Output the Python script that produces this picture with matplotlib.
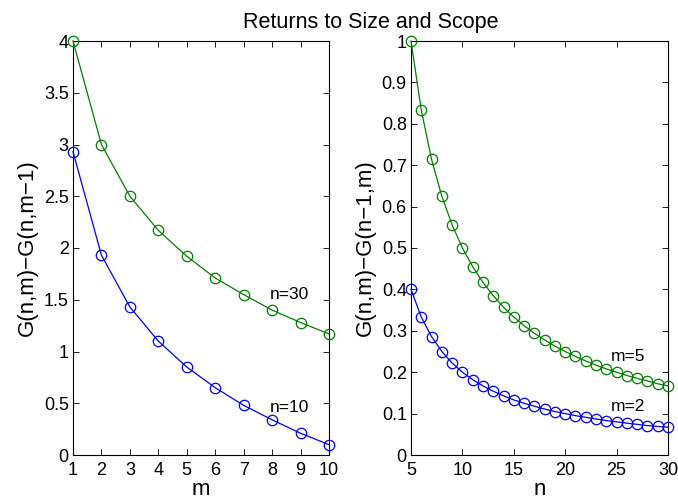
import matplotlib
matplotlib.use('Agg')
import matplotlib.pyplot as plt
from matplotlib.ticker import FormatStrFormatter

plt.rcParams['font.family'] = ['Liberation Sans', 'DejaVu Sans']

# left panel: marginal return in m
m_vals = [1, 2, 3, 4, 5, 6, 7, 8, 9, 10]
n30 = [4.0, 3.0, 2.5, 2.17, 1.92, 1.71, 1.55, 1.40, 1.28, 1.17]
n10 = [2.93, 1.93, 1.43, 1.10, 0.85, 0.65, 0.48, 0.34, 0.21, 0.10]

# right panel: marginal return in n
n_vals = list(range(5, 31))
m5 = [1.0, 0.833, 0.714, 0.625, 0.556, 0.5, 0.455, 0.417, 0.385, 0.357,
      0.333, 0.3125, 0.294, 0.278, 0.263, 0.25, 0.238, 0.227, 0.217, 0.208,
      0.2, 0.192, 0.185, 0.179, 0.172, 0.167]
m2 = [0.4, 0.333, 0.286, 0.25, 0.222, 0.2, 0.182, 0.167, 0.154, 0.143,
      0.133, 0.125, 0.118, 0.111, 0.105, 0.1, 0.095, 0.091, 0.087, 0.083,
      0.08, 0.077, 0.074, 0.071, 0.069, 0.067]

green = (0, 0.5, 0)
blue = (0, 0, 1)

fig = plt.figure(figsize=(6.78, 5.01), dpi=100)
ax1 = fig.add_axes([73/678, 46/501, 256/678, 414/501])
ax2 = fig.add_axes([411/678, 46/501, 257/678, 414/501])

style = dict(marker='o', markersize=7.5, markerfacecolor='none', lw=0.9,
             markeredgewidth=0.9, clip_on=False, zorder=3)

ax1.plot(m_vals, n30, color=green, markeredgecolor=green, **style)
ax1.plot(m_vals, n10, color=blue, markeredgecolor=blue, **style)
ax1.set_xlim(1, 10)
ax1.set_ylim(0, 4)
ax1.set_xticks(range(1, 11))
ax1.set_yticks([i * 0.5 for i in range(9)])
ax1.yaxis.set_major_formatter(FormatStrFormatter('%g'))
ax1.text(8.6, 1.55, 'n=30', ha='center', va='center', fontsize=12.5)
ax1.text(8.6, 0.46, 'n=10', ha='center', va='center', fontsize=12.5)
ax1.set_xlabel('m', fontsize=16, labelpad=0)
ax1.set_ylabel('G(n,m)\u2212G(n,m\u22121)', fontsize=16, labelpad=4)

ax2.plot(n_vals, m5, color=green, markeredgecolor=green, **style)
ax2.plot(n_vals, m2, color=blue, markeredgecolor=blue, **style)
ax2.set_xlim(5, 30)
ax2.set_ylim(0, 1)
ax2.set_xticks(range(5, 31, 5))
ax2.set_yticks([i / 10 for i in range(11)])
ax2.yaxis.set_major_formatter(FormatStrFormatter('%g'))
ax2.text(26.1, 0.237, 'm=5', ha='center', va='center', fontsize=12.5)
ax2.text(26.1, 0.116, 'm=2', ha='center', va='center', fontsize=12.5)
ax2.set_xlabel('n', fontsize=16, labelpad=0)
ax2.set_ylabel('G(n,m)\u2212G(n\u22121,m)', fontsize=16, labelpad=4)

for ax in (ax1, ax2):
    ax.tick_params(direction='in', top=True, right=True, length=4,
                   width=0.6, labelsize=13)
    ax.tick_params(axis='x', pad=5)
    ax.tick_params(axis='y', pad=3)
    for sp in ax.spines.values():
        sp.set_linewidth(0.8)

fig.text(371/678, 1 - 28/501, 'Returns to Size and Scope', ha='center',
         va='baseline', fontsize=15.5)

fig.savefig('out.png', dpi=100)
